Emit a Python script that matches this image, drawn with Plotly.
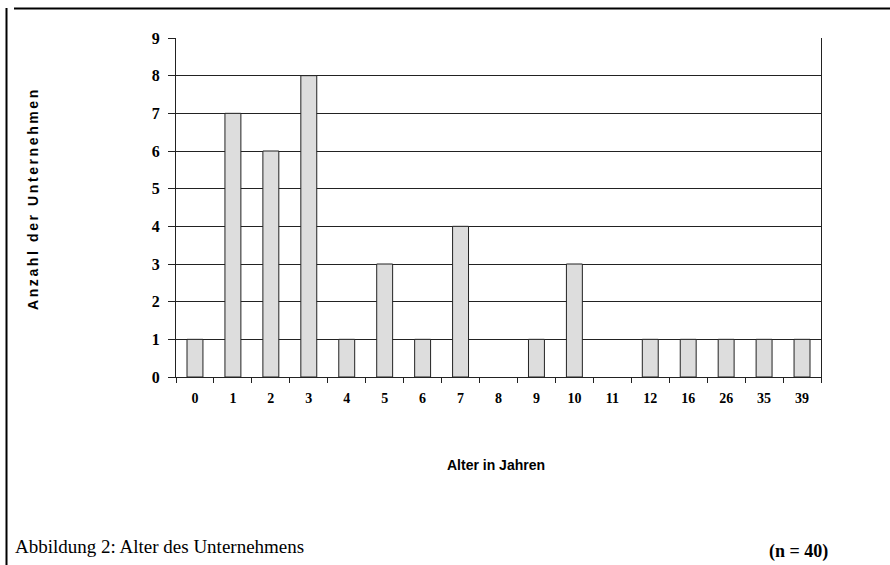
import plotly.graph_objects as go

categories = ["0", "1", "2", "3", "4", "5", "6", "7", "8", "9", "10", "11", "12", "16", "26", "35", "39"]
counts = [1, 7, 6, 8, 1, 3, 1, 4, 0, 1, 3, 0, 1, 1, 1, 1, 1]
y_ticks = list(range(0, 10))

L, R, T, B = 176, 821, 38, 377
W, H = 890, 565

def px_x(px):
    return (px - L) / (R - L)

def px_y(py):
    return (B - py) / (B - T)

fig = go.Figure(go.Bar(
    x=categories, y=counts,
    marker=dict(color="#dddddd",
                line=dict(color="#222222", width=[1 if c else 0 for c in counts])),
))

fig.update_layout(
    width=W, height=H,
    margin=dict(l=L, r=W - R, t=T, b=H - B),
    paper_bgcolor="white", plot_bgcolor="white",
    bargap=0.58,
    showlegend=False,
    font=dict(family="Liberation Serif", color="black"),
)
fig.update_xaxes(
    type="category", tickson="boundaries", ticks="outside", ticklen=5,
    tickcolor="#222222", showline=True, linecolor="#222222", linewidth=1,
    showgrid=False,
    tickfont=dict(family="Liberation Serif", size=14, color="black", weight="bold"),
    ticklabelstandoff=8,
)
fig.update_yaxes(
    range=[0, 9], tickvals=y_ticks, ticks="outside", ticklen=7, tickcolor="#222222",
    showline=True, mirror=True, linecolor="#222222", linewidth=1,
    showgrid=True, gridcolor="#222222", gridwidth=1, zeroline=False,
    tickfont=dict(family="Liberation Serif", size=16, color="black", weight="bold"),
    ticklabelstandoff=5,
)

# page border lines
fig.add_shape(type="line", xref="paper", yref="paper",
              x0=px_x(6.5), x1=px_x(6.5), y0=px_y(8), y1=px_y(566),
              line=dict(color="black", width=2))
fig.add_shape(type="line", xref="paper", yref="paper",
              x0=px_x(14), x1=px_x(891), y0=px_y(8.5), y1=px_y(8.5),
              line=dict(color="black", width=2))

fig.add_annotation(text="Alter in Jahren", xref="paper", yref="paper",
                   x=px_x(445), y=px_y(465), xanchor="left", yanchor="middle",
                   showarrow=False,
                   font=dict(family="Liberation Sans", size=14, weight="bold"))
fig.add_annotation(text='<span style="letter-spacing:2.6px">Anzahl der Unternehmen</span>',
                   xref="paper", yref="paper",
                   x=px_x(33), y=px_y(199), xanchor="center", yanchor="middle",
                   showarrow=False, textangle=-90,
                   font=dict(family="Liberation Sans", size=14, weight="bold"))
fig.add_annotation(text="Abbildung 2: Alter des Unternehmens", xref="paper", yref="paper",
                   x=px_x(13), y=px_y(546), xanchor="left", yanchor="middle",
                   showarrow=False,
                   font=dict(family="Liberation Serif", size=19))
fig.add_annotation(text="(n = 40)", xref="paper", yref="paper",
                   x=px_x(767), y=px_y(551), xanchor="left", yanchor="middle",
                   showarrow=False,
                   font=dict(family="Liberation Serif", size=18, weight="bold"))

fig.write_html("out.html", config={"displayModeBar": False},
               post_script="document.body.style.margin='0';")
